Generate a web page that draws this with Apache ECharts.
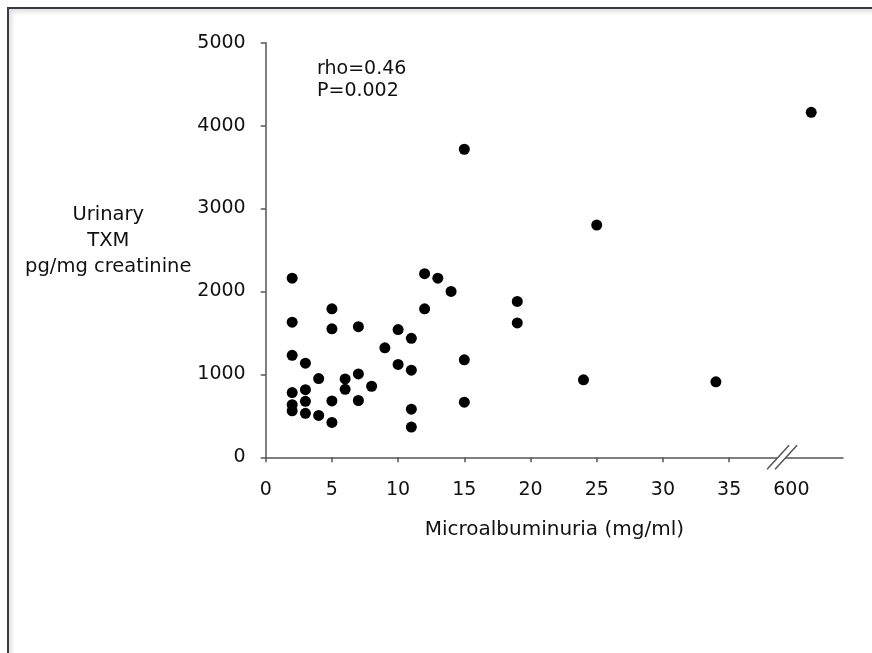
<!DOCTYPE html>
<html><head><meta charset="utf-8">
<script src="https://cdn.jsdelivr.net/npm/echarts@6/dist/echarts.min.js"></script>
<style>
html,body{margin:0;padding:0;background:#fff;}
#frame{position:absolute;left:7px;top:7px;width:865px;height:646px;border-left:2px solid #3b3b47;border-top:2px solid #3b3b47;box-shadow: inset 3px 3px 4px rgba(0,0,0,0.12);}
#chart{position:absolute;left:0;top:0;width:872px;height:653px;}
</style></head>
<body><div id="frame"></div><div id="chart"></div>
<script>
// Data
const microalbuminuria = [2,2,2,2,2,2, 3,3,3,3, 4,4, 5,5,5,5, 6,6, 7,7,7, 8, 9, 10,10, 11,11,11,11, 12,12, 13, 14, 15,15,15, 19,19, 24, 25, 34, 610];
const txm = [2160,1630,1230,780,635,560, 1135,815,675,530, 950,505, 1790,1550,680,420, 945,820, 1575,1005,685, 857, 1320, 1540,1120, 1435,1050,580,365, 2215,1790, 2160, 2000, 3715,1175,665, 1880,1620, 935, 2800, 910, 4160];
const xTickValues = [0,5,10,15,20,25,30,35,600];
const xTickLabels = ['0','5','10','15','20','25','30','35','600'];
const yTickValues = [0,1000,2000,3000,4000,5000];
const yTickLabels = ['0','1000','2000','3000','4000','5000'];
const annotationLines = ['rho=0.46','P=0.002'];
const xAxisTitle = 'Microalbuminuria (mg/ml)';
const yAxisTitle = ['Urinary','TXM','pg/mg creatinine'];

// Broken x axis: 0-35 linear, then a break, then values from 600 on
const BREAK_AT = 39;          // axis position of the "//" mark
function axisPos(v){ return v <= 100 ? v : 39.7 + (v - 600) * 0.15; }

const FONT = 'DejaVu Sans';
const TXT = '#111';
const AX = '#555';

const chart = echarts.init(document.getElementById('chart'), null, {renderer:'canvas'});
const xPositions = xTickValues.map(axisPos);

chart.setOption({
  animation:false,
  backgroundColor:'transparent',
  textStyle:{fontFamily:FONT},
  title:{
    text: annotationLines.join('\n'),
    left:317, top:58, padding:0,
    textStyle:{fontFamily:FONT, fontSize:19, fontWeight:'normal', color:TXT, lineHeight:22}
  },
  grid:{left:265.7, right:29, top:42.7, bottom:195.7, containLabel:false},
  xAxis:{
    type:'value', min:0, max:43.6,
    name:xAxisTitle, nameLocation:'middle', nameGap:62,
    nameTextStyle:{fontFamily:FONT, fontSize:20, color:TXT},
    axisLine:{show:true, lineStyle:{color:AX, width:1.5}},
    axisTick:{show:true, inside:false, length:5, lineStyle:{color:AX, width:1.5},
      customValues: xPositions.filter(p => p <= 35)},
    axisLabel:{show:true, margin:23, fontFamily:FONT, fontSize:19, color:TXT,
      customValues: xPositions,
      formatter:(val)=>{ const i = xPositions.findIndex(p=>Math.abs(p-val)<1e-6); return i>=0 ? xTickLabels[i] : ''; }},
    splitLine:{show:false}
  },
  yAxis:{
    type:'value', min:0, max:5000, interval:1000,
    name: yAxisTitle.map(s => '{a|' + s + '}').join('\n') + '\n{s| }',
    nameLocation:'middle', nameRotate:0, nameGap:150,
    nameTextStyle:{fontFamily:FONT, fontSize:19.5, color:TXT, align:'center', verticalAlign:'middle',
      rich:{
        a:{fontFamily:FONT, fontSize:19.5, color:TXT, lineHeight:26, align:'center'},
        s:{fontSize:2, lineHeight:18}
      }},
    axisLine:{show:true, lineStyle:{color:AX, width:1.5}},
    axisTick:{show:true, inside:false, length:5, lineStyle:{color:AX, width:1.5}},
    axisLabel:{show:true, margin:20, fontFamily:FONT, fontSize:19, color:TXT,
      customValues: yTickValues,
      formatter:(val)=>{ const i = yTickValues.indexOf(val); return i>=0 ? yTickLabels[i] : String(val); }},
    splitLine:{show:false}
  },
  series:[{
    type:'scatter',
    symbol:'circle', symbolSize:11,
    itemStyle:{color:'#000', opacity:1},
    data: microalbuminuria.map((x,i)=>[axisPos(x), txm[i]]),
    z:5
  }]
});

// draw the "//" axis-break mark at the break position
const bx = chart.convertToPixel({xAxisIndex:0}, BREAK_AT);
const by = chart.convertToPixel({yAxisIndex:0}, 0);
const hw = 11, hh = 12, off = 4;
chart.setOption({
  graphic:[
    {type:'polygon', shape:{points:[[bx-off-hw,by+hh],[bx-off+hw,by-hh],[bx+off+hw,by-hh],[bx+off-hw,by+hh]]},
     style:{fill:'#fff'}, z:100},
    {type:'line', shape:{x1:bx-off-hw, y1:by+hh, x2:bx-off+hw, y2:by-hh}, style:{stroke:AX, lineWidth:1.5}, z:101},
    {type:'line', shape:{x1:bx+off-hw, y1:by+hh, x2:bx+off+hw, y2:by-hh}, style:{stroke:AX, lineWidth:1.5}, z:101}
  ]
});
</script>
</body></html>
